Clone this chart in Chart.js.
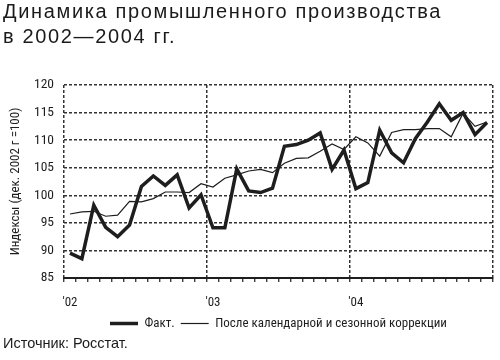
<!DOCTYPE html>
<html><head><meta charset="utf-8">
<script src="https://cdn.jsdelivr.net/npm/chart.js@4"></script>
<style>
html,body{margin:0;padding:0;background:#fff;width:500px;height:360px;overflow:hidden}
#wrap{position:absolute;left:0;top:0;width:500px;height:340px}
#title{position:absolute;left:3px;top:-1px;font:20px 'Liberation Sans',Arial,sans-serif;line-height:24.5px;color:#1a1a1a;letter-spacing:1.65px;white-space:nowrap}
#src{position:absolute;left:3px;top:335px;font:14.5px 'Liberation Sans',Arial,sans-serif;color:#1a1a1a}
</style></head><body>
<div id="wrap"><canvas id="c" width="500" height="340"></canvas></div>
<div id="title">Динамика промышленного производства<br>в 2002—2004 гг.</div>
<div id="src">Источник: Росстат.</div>
<script>
const yearLabels = ["'02", "'03", "'04"];
const monthNames = ['янв', 'фев', 'мар', 'апр', 'май', 'июн', 'июл', 'авг', 'сен', 'окт', 'ноя', 'дек'];
const seriesNames = ['Факт.', 'После календарной и сезонной коррекции'];
const actual = [89.5, 88.5, 98.2, 94.2, 92.5, 94.6, 101.6, 103.5, 101.8, 103.7, 97.7, 100.1,
                94.1, 94.1, 104.8, 100.8, 100.5, 101.3, 108.9, 109.2, 110.0, 111.3, 104.7, 108.2,
                101.2, 102.3, 111.8, 107.7, 105.9, 110.3, 113.3, 116.6, 113.6, 115.0, 111.0, 113.2];
const adjusted = [96.6, 97.0, 97.1, 96.2, 96.4, 98.9, 98.8, 99.4, 100.6, 100.6, 100.5, 102.1,
                  101.5, 103.1, 103.7, 104.4, 104.7, 104.1, 105.8, 106.7, 106.8, 108.0, 109.3, 108.3,
                  110.6, 109.5, 107.1, 111.4, 111.9, 111.9, 112.1, 112.1, 110.6, 114.9, 112.5, 113.3];
const yAxisTitle = 'Индексы (дек. 2002 г =100)';
const yMin = 85, yMax = 120, yStep = 5;

const categories = [];
yearLabels.forEach(y => monthNames.forEach(m => categories.push(m + ' ' + y)));

const NARROW = "'Roboto Condensed','DejaVu Sans Condensed',sans-serif";
const INK = '#1e1e1e';

new Chart(document.getElementById('c'), {
  type: 'line',
  data: {
    labels: categories,
    datasets: [
      { label: seriesNames[0], data: actual, borderColor: INK, backgroundColor: INK,
        borderWidth: 3.5, pointRadius: 0, tension: 0, borderJoinStyle: 'miter' },
      { label: seriesNames[1], data: adjusted, borderColor: INK, backgroundColor: INK,
        borderWidth: 1.2, pointRadius: 0, tension: 0 }
    ]
  },
  options: {
    responsive: false,
    animation: false,
    devicePixelRatio: 1,
    layout: { padding: { top: 85, right: 3, left: 0, bottom: 0 } },
    plugins: {
      tooltip: { enabled: false },
      legend: {
        position: 'bottom',
        fullSize: false,
        labels: {
          usePointStyle: true, pointStyle: 'line', pointStyleWidth: 28,
          color: INK, font: { family: NARROW, size: 13 }, padding: 6
        }
      }
    },
    scales: {
      x: {
        type: 'category',
        offset: true,
        grid: {
          offset: true,
          color: c => (c.type === 'scale' || c.index % 12 === 0) ? '#333' : 'rgba(0,0,0,0)',
          lineWidth: 1.5,
          tickColor: INK, tickWidth: 1.2, tickLength: 4, tickBorderDash: []
        },
        border: { display: true, color: INK, width: 2, dash: [3, 2] },
        ticks: {
          autoSkip: false, maxRotation: 0, padding: 13, color: INK,
          font: { family: NARROW, size: 13 },
          callback: (v, i) => (i % 12 === 0 ? yearLabels[i / 12] : '')
        },
        afterFit: s => { s.height = 33; }
      },
      y: {
        min: yMin, max: yMax,
        ticks: { stepSize: yStep, padding: 10, color: INK, font: { family: NARROW, size: 13.5 } },
        grid: { color: '#333', lineWidth: 1.5, drawTicks: false },
        border: { display: false, dash: [3, 2] },
        title: { display: true, text: yAxisTitle, color: INK,
                 font: { family: NARROW, size: 13 }, padding: { top: 8, bottom: 0 } },
        afterFit: s => { s.width = 64; }
      }
    }
  }
});
</script>
</body></html>
